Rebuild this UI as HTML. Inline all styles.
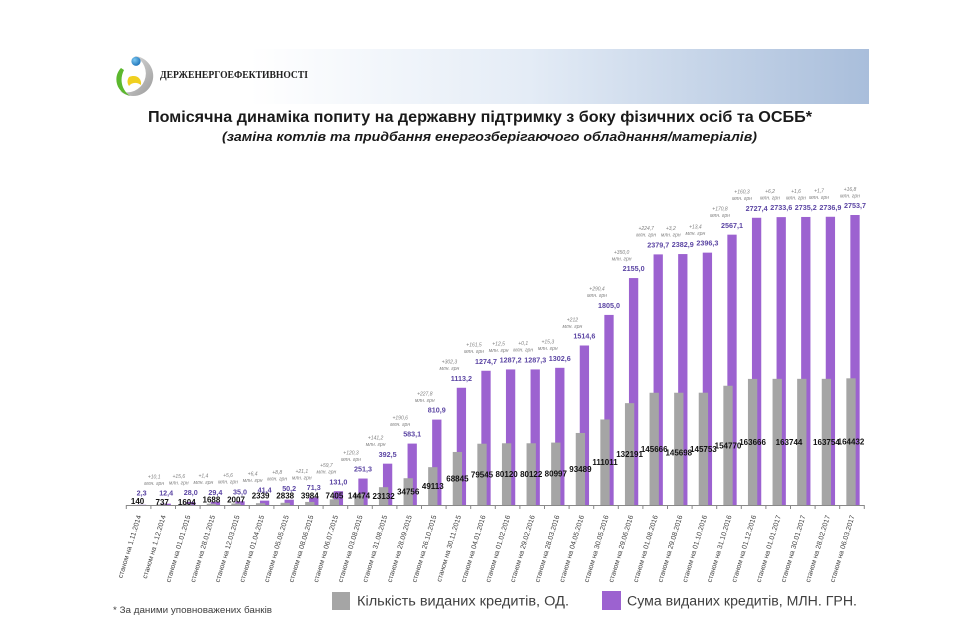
<!DOCTYPE html>
<html lang="uk">
<head>
<meta charset="utf-8">
<style>
  html,body{margin:0;padding:0;background:#fff;}
  body{width:960px;height:641px;overflow:hidden;}
  svg{display:block;}
  .gl{font-family:"Liberation Sans",sans-serif;font-weight:bold;font-size:8px;fill:#111;text-anchor:middle;}
  .pl{font-family:"Liberation Sans",sans-serif;font-weight:bold;font-size:7.2px;fill:#5b45a3;text-anchor:middle;}
  .an{font-family:"Liberation Sans",sans-serif;font-style:italic;font-size:5px;fill:#808080;text-anchor:middle;}
  .xl{font-family:"Liberation Sans",sans-serif;font-size:7px;fill:#3f3f3f;text-anchor:end;}
  .p{fill:#9c62d0;}
  .g{fill:#a5a5a5;}
</style>
</head>
<body>
<svg width="960" height="641" viewBox="0 0 960 641" xmlns="http://www.w3.org/2000/svg">
  <defs>
    <linearGradient id="band" x1="250" y1="0" x2="869" y2="0" gradientUnits="userSpaceOnUse">
      <stop offset="0" stop-color="#ffffff"/>
      <stop offset="0.45" stop-color="#e4ecf6"/>
      <stop offset="1" stop-color="#a9bedb"/>
    </linearGradient>
    <radialGradient id="blueball" cx="0.35" cy="0.35" r="0.7">
      <stop offset="0" stop-color="#7cc8f2"/>
      <stop offset="1" stop-color="#1c72b8"/>
    </radialGradient>
    <linearGradient id="ring" x1="0" y1="0" x2="1" y2="1">
      <stop offset="0" stop-color="#e2e2e2"/>
      <stop offset="1" stop-color="#9b9b9b"/>
    </linearGradient>
  </defs>

  <!-- header band -->
  <rect x="250" y="49" width="619" height="55" fill="url(#band)"/>
  <rect x="250" y="49" width="619" height="1" fill="url(#band)" opacity="0.6"/>

  <!-- logo -->
  <path d="M134 56 A20 20 0 1 1 120 91 A16 16 0 1 0 134 56 Z" fill="url(#ring)"/>
  <path d="M121 68 C113 76 115 92 130 96 C122 90 119 80 124 70 Z" fill="#5cb82e"/>
  <path d="M129 77 C136 74 142 78 141 85 C137 82 132 82 129 86 C127 83 127 80 129 77 Z" fill="#f0d020"/>
  <circle cx="136" cy="61.3" r="4.6" fill="url(#blueball)"/>
  <text x="160" y="78" font-family="'Liberation Serif',serif" font-weight="bold" font-size="10" fill="#222" textLength="148" lengthAdjust="spacingAndGlyphs">ДЕРЖЕНЕРГОЕФЕКТИВНОСТІ</text>

  <!-- titles -->
  <text x="148" y="122" font-family="'Liberation Sans',sans-serif" font-weight="bold" font-size="16" fill="#1a1a1a" textLength="664" lengthAdjust="spacingAndGlyphs">Помісячна динаміка попиту на державну підтримку з боку фізичних осіб та ОСББ*</text>
  <text x="222" y="141" font-family="'Liberation Sans',sans-serif" font-weight="bold" font-style="italic" font-size="12.5" fill="#1a1a1a" textLength="535" lengthAdjust="spacingAndGlyphs">(заміна котлів  та  придбання енергозберігаючого обладнання/матеріалів)</text>

  <!-- purple bars (behind) -->
  <g class="p">
    <rect x="136.95" y="504.76" width="9.3" height="0.24"/>
    <rect x="161.55" y="503.69" width="9.3" height="1.31"/>
    <rect x="186.15" y="502.05" width="9.3" height="2.95"/>
    <rect x="210.75" y="501.90" width="9.3" height="3.10"/>
    <rect x="235.35" y="501.31" width="9.3" height="3.69"/>
    <rect x="259.95" y="500.64" width="9.3" height="4.36"/>
    <rect x="284.55" y="499.71" width="9.3" height="5.29"/>
    <rect x="309.15" y="497.49" width="9.3" height="7.51"/>
    <rect x="333.75" y="491.20" width="9.3" height="13.80"/>
    <rect x="358.35" y="478.54" width="9.3" height="26.46"/>
    <rect x="382.95" y="463.67" width="9.3" height="41.33"/>
    <rect x="407.55" y="443.59" width="9.3" height="61.41"/>
    <rect x="432.15" y="419.60" width="9.3" height="85.40"/>
    <rect x="456.75" y="387.77" width="9.3" height="117.23"/>
    <rect x="481.35" y="370.76" width="9.3" height="134.24"/>
    <rect x="505.95" y="369.44" width="9.3" height="135.56"/>
    <rect x="530.55" y="369.43" width="9.3" height="135.57"/>
    <rect x="555.15" y="367.82" width="9.3" height="137.18"/>
    <rect x="579.75" y="345.50" width="9.3" height="159.50"/>
    <rect x="604.35" y="314.92" width="9.3" height="190.08"/>
    <rect x="628.95" y="278.06" width="9.3" height="226.94"/>
    <rect x="653.55" y="254.39" width="9.3" height="250.61"/>
    <rect x="678.15" y="254.06" width="9.3" height="250.94"/>
    <rect x="702.75" y="252.64" width="9.3" height="252.36"/>
    <rect x="727.35" y="234.66" width="9.3" height="270.34"/>
    <rect x="751.95" y="217.78" width="9.3" height="287.22"/>
    <rect x="776.55" y="217.12" width="9.3" height="287.88"/>
    <rect x="801.15" y="216.96" width="9.3" height="288.04"/>
    <rect x="825.75" y="216.78" width="9.3" height="288.22"/>
    <rect x="850.35" y="215.00" width="9.3" height="290.00"/>
  </g>

  <!-- gray bars (front) -->
  <g class="g">
    <rect x="132.95" y="504.89" width="9.3" height="0.11"/>
    <rect x="157.55" y="504.43" width="9.3" height="0.57"/>
    <rect x="182.15" y="503.76" width="9.3" height="1.24"/>
    <rect x="206.75" y="503.70" width="9.3" height="1.30"/>
    <rect x="231.35" y="503.45" width="9.3" height="1.55"/>
    <rect x="255.95" y="503.20" width="9.3" height="1.80"/>
    <rect x="280.55" y="502.81" width="9.3" height="2.19"/>
    <rect x="305.15" y="501.93" width="9.3" height="3.07"/>
    <rect x="329.75" y="499.29" width="9.3" height="5.71"/>
    <rect x="354.35" y="493.85" width="9.3" height="11.15"/>
    <rect x="378.95" y="487.18" width="9.3" height="17.82"/>
    <rect x="403.55" y="478.22" width="9.3" height="26.78"/>
    <rect x="428.15" y="467.16" width="9.3" height="37.84"/>
    <rect x="452.75" y="451.96" width="9.3" height="53.04"/>
    <rect x="477.35" y="443.71" width="9.3" height="61.29"/>
    <rect x="501.95" y="443.27" width="9.3" height="61.73"/>
    <rect x="526.55" y="443.27" width="9.3" height="61.73"/>
    <rect x="551.15" y="442.59" width="9.3" height="62.41"/>
    <rect x="575.75" y="432.97" width="9.3" height="72.03"/>
    <rect x="600.35" y="419.47" width="9.3" height="85.53"/>
    <rect x="624.95" y="403.15" width="9.3" height="101.85"/>
    <rect x="649.55" y="392.76" width="9.3" height="112.24"/>
    <rect x="674.15" y="392.74" width="9.3" height="112.26"/>
    <rect x="698.75" y="392.70" width="9.3" height="112.30"/>
    <rect x="723.35" y="385.75" width="9.3" height="119.25"/>
    <rect x="747.95" y="378.90" width="9.3" height="126.10"/>
    <rect x="772.55" y="378.84" width="9.3" height="126.16"/>
    <rect x="797.15" y="378.83" width="9.3" height="126.17"/>
    <rect x="821.75" y="378.83" width="9.3" height="126.17"/>
    <rect x="846.35" y="378.31" width="9.3" height="126.69"/>
  </g>

  <!-- axis -->
  <line x1="126.3" y1="505.5" x2="864.3" y2="505.5" stroke="#898989" stroke-width="1"/>
  <path d="M126.3 505v4m24.6-4v4m24.6-4v4m24.6-4v4m24.6-4v4m24.6-4v4m24.6-4v4m24.6-4v4m24.6-4v4m24.6-4v4m24.6-4v4m24.6-4v4m24.6-4v4m24.6-4v4m24.6-4v4m24.6-4v4m24.6-4v4m24.6-4v4m24.6-4v4m24.6-4v4m24.6-4v4m24.6-4v4m24.6-4v4m24.6-4v4m24.6-4v4m24.6-4v4m24.6-4v4m24.6-4v4m24.6-4v4m24.6-4v4m24.6-4v4" stroke="#898989" stroke-width="1" fill="none"/>

  <!-- gray value labels -->
  <g class="gl">
    <text x="137.6" y="503.9">140</text>
    <text x="162.2" y="504.9">737</text>
    <text x="186.8" y="504.9">1604</text>
    <text x="211.4" y="502.4">1688</text>
    <text x="236" y="502.4">2007</text>
    <text x="260.6" y="498.4">2339</text>
    <text x="285.2" y="498.4">2838</text>
    <text x="309.8" y="498.4">3984</text>
    <text x="334.4" y="498.4">7405</text>
    <text x="359" y="498.4">14474</text>
    <text x="383.6" y="498.9">23132</text>
    <text x="408.2" y="494.5">34756</text>
    <text x="432.8" y="489">49113</text>
    <text x="457.4" y="481.4">68845</text>
    <text x="482" y="477.3">79545</text>
    <text x="506.6" y="477">80120</text>
    <text x="531.2" y="477">80122</text>
    <text x="555.8" y="476.7">80997</text>
    <text x="580.4" y="471.9">93489</text>
    <text x="605" y="465.1">111011</text>
    <text x="629.6" y="457">132191</text>
    <text x="654.2" y="451.8">145666</text>
    <text x="678.8" y="455.6">145698</text>
    <text x="703.4" y="451.8">145753</text>
    <text x="728" y="448.3">154770</text>
    <text x="752.6" y="444.9">163666</text>
    <text x="789" y="444.8">163744</text>
    <text x="826.4" y="444.8">163754</text>
    <text x="851" y="444.6">164432</text>
  </g>

  <!-- purple value labels -->
  <g class="pl">
    <text x="141.6" y="495.6">2,3</text>
    <text x="166.2" y="495.6">12,4</text>
    <text x="190.8" y="495.1">28,0</text>
    <text x="215.4" y="495.0">29,4</text>
    <text x="240" y="494.4">35,0</text>
    <text x="264.6" y="492.6">41,4</text>
    <text x="289.2" y="491.1">50,2</text>
    <text x="313.8" y="490.1">71,3</text>
    <text x="338.4" y="484.3">131,0</text>
    <text x="363" y="471.6">251,3</text>
    <text x="387.6" y="456.8">392,5</text>
    <text x="412.2" y="436.7">583,1</text>
    <text x="436.8" y="412.7">810,9</text>
    <text x="461.4" y="380.9">1113,2</text>
    <text x="486" y="363.9">1274,7</text>
    <text x="510.6" y="362.6">1287,2</text>
    <text x="535.2" y="362.5">1287,3</text>
    <text x="559.8" y="360.9">1302,6</text>
    <text x="584.4" y="338.6">1514,6</text>
    <text x="609" y="308">1805,0</text>
    <text x="633.6" y="271.2">2155,0</text>
    <text x="658.2" y="247.5">2379,7</text>
    <text x="682.8" y="247.2">2382,9</text>
    <text x="707.4" y="245.7">2396,3</text>
    <text x="732" y="227.8">2567,1</text>
    <text x="756.6" y="210.9">2727,4</text>
    <text x="781.2" y="210.2">2733,6</text>
    <text x="805.8" y="210.1">2735,2</text>
    <text x="830.4" y="209.9">2736,9</text>
    <text x="855" y="208.1">2753,7</text>
  </g>

  <!-- increment annotations -->
  <g class="an">
    <text x="154.2" y="478.3">+10,1</text><text x="154.2" y="484.8">млн. грн</text>
    <text x="178.8" y="477.8">+15,6</text><text x="178.8" y="484.3">млн. грн</text>
    <text x="203.4" y="477.7">+1,4</text><text x="203.4" y="484.2">млн. грн</text>
    <text x="228" y="477.1">+5,6</text><text x="228" y="483.6">млн. грн</text>
    <text x="252.6" y="475.3">+6,4</text><text x="252.6" y="481.8">млн. грн</text>
    <text x="277.2" y="473.8">+8,8</text><text x="277.2" y="480.3">млн. грн</text>
    <text x="301.8" y="472.8">+21,1</text><text x="301.8" y="479.3">млн. грн</text>
    <text x="326.4" y="467">+59,7</text><text x="326.4" y="473.5">млн. грн</text>
    <text x="351" y="454.3">+120,3</text><text x="351" y="460.8">млн. грн</text>
    <text x="375.6" y="439.5">+141,2</text><text x="375.6" y="446">млн. грн</text>
    <text x="400.2" y="419.4">+190,6</text><text x="400.2" y="425.9">млн. грн</text>
    <text x="424.8" y="395.4">+227,8</text><text x="424.8" y="401.9">млн. грн</text>
    <text x="449.4" y="363.6">+302,3</text><text x="449.4" y="370.1">млн. грн</text>
    <text x="474" y="346.6">+161,5</text><text x="474" y="353.1">млн. грн</text>
    <text x="498.6" y="345.3">+12,5</text><text x="498.6" y="351.8">млн. грн</text>
    <text x="523.2" y="345.2">+0,1</text><text x="523.2" y="351.7">млн. грн</text>
    <text x="547.8" y="343.6">+15,3</text><text x="547.8" y="350.1">млн. грн</text>
    <text x="572.4" y="321.3">+212</text><text x="572.4" y="327.8">млн. грн</text>
    <text x="597" y="290.7">+290,4</text><text x="597" y="297.2">млн. грн</text>
    <text x="621.6" y="253.9">+350,0</text><text x="621.6" y="260.4">млн. грн</text>
    <text x="646.2" y="230.2">+224,7</text><text x="646.2" y="236.7">млн. грн</text>
    <text x="670.8" y="229.9">+3,2</text><text x="670.8" y="236.4">млн. грн</text>
    <text x="695.4" y="228.4">+13,4</text><text x="695.4" y="234.9">млн. грн</text>
    <text x="720" y="210.5">+170,8</text><text x="720" y="217">млн. грн</text>
    <text x="742" y="193.6">+160,3</text><text x="742" y="200.1">млн. грн</text>
    <text x="770" y="192.9">+6,2</text><text x="770" y="199.4">млн. грн</text>
    <text x="796" y="192.8">+1,6</text><text x="796" y="199.3">млн. грн</text>
    <text x="819" y="192.6">+1,7</text><text x="819" y="199.1">млн. грн</text>
    <text x="850" y="190.8">+16,8</text><text x="850" y="197.3">млн. грн</text>
  </g>

  <!-- x-axis category labels -->
  <g class="xl">
    <text transform="translate(141.3,516) rotate(-73)">станом на 1.11.2014</text>
    <text transform="translate(165.9,516) rotate(-73)">станом на 1.12.2014</text>
    <text transform="translate(190.5,516) rotate(-73)">станом на 01.01.2015</text>
    <text transform="translate(215.1,516) rotate(-73)">станом на 28.01.2015</text>
    <text transform="translate(239.7,516) rotate(-73)">станом на 12.03.2015</text>
    <text transform="translate(264.3,516) rotate(-73)">станом на 01.04.2015</text>
    <text transform="translate(288.9,516) rotate(-73)">станом на 05.05.2015</text>
    <text transform="translate(313.5,516) rotate(-73)">станом на 08.06.2015</text>
    <text transform="translate(338.1,516) rotate(-73)">станом на 06.07.2015</text>
    <text transform="translate(362.7,516) rotate(-73)">станом на 03.08.2015</text>
    <text transform="translate(387.3,516) rotate(-73)">станом на 31.08.2015</text>
    <text transform="translate(411.9,516) rotate(-73)">станом на 28.09.2015</text>
    <text transform="translate(436.5,516) rotate(-73)">станом на 26.10.2015</text>
    <text transform="translate(461.1,516) rotate(-73)">станом на 30.11.2015</text>
    <text transform="translate(485.7,516) rotate(-73)">станом на 04.01.2016</text>
    <text transform="translate(510.3,516) rotate(-73)">станом на 01.02.2016</text>
    <text transform="translate(534.9,516) rotate(-73)">станом на 29.02.2016</text>
    <text transform="translate(559.5,516) rotate(-73)">станом на 28.03.2016</text>
    <text transform="translate(584.1,516) rotate(-73)">станом на 04.05.2016</text>
    <text transform="translate(608.7,516) rotate(-73)">станом на 30.05.2016</text>
    <text transform="translate(633.3,516) rotate(-73)">станом на 29.06.2016</text>
    <text transform="translate(657.9,516) rotate(-73)">станом на 01.08.2016</text>
    <text transform="translate(682.5,516) rotate(-73)">станом на 29.08.2016</text>
    <text transform="translate(707.1,516) rotate(-73)">станом на 01.10.2016</text>
    <text transform="translate(731.7,516) rotate(-73)">станом на 31.10.2016</text>
    <text transform="translate(756.3,516) rotate(-73)">станом на 01.12.2016</text>
    <text transform="translate(780.9,516) rotate(-73)">станом на 01.01.2017</text>
    <text transform="translate(805.5,516) rotate(-73)">станом на 30.01.2017</text>
    <text transform="translate(830.1,516) rotate(-73)">станом на 28.02.2017</text>
    <text transform="translate(854.7,516) rotate(-73)">станом на 06.03.2017</text>
  </g>

  <!-- footnote -->
  <text x="113" y="613" font-family="'Liberation Sans',sans-serif" font-size="9" fill="#404040" textLength="159" lengthAdjust="spacingAndGlyphs">* За даними уповноважених банків</text>

  <!-- legend -->
  <rect x="332" y="592" width="18" height="18" fill="#a5a5a5"/>
  <text x="357" y="605.5" font-family="'Liberation Sans',sans-serif" font-size="13.5" fill="#404040" textLength="212" lengthAdjust="spacingAndGlyphs">Кількість виданих кредитів, ОД.</text>
  <rect x="602" y="591" width="19" height="19" fill="#9c62d0"/>
  <text x="627" y="605.5" font-family="'Liberation Sans',sans-serif" font-size="13.5" fill="#404040" textLength="230" lengthAdjust="spacingAndGlyphs">Сума виданих кредитів, МЛН. ГРН.</text>
</svg>
</body>
</html>
